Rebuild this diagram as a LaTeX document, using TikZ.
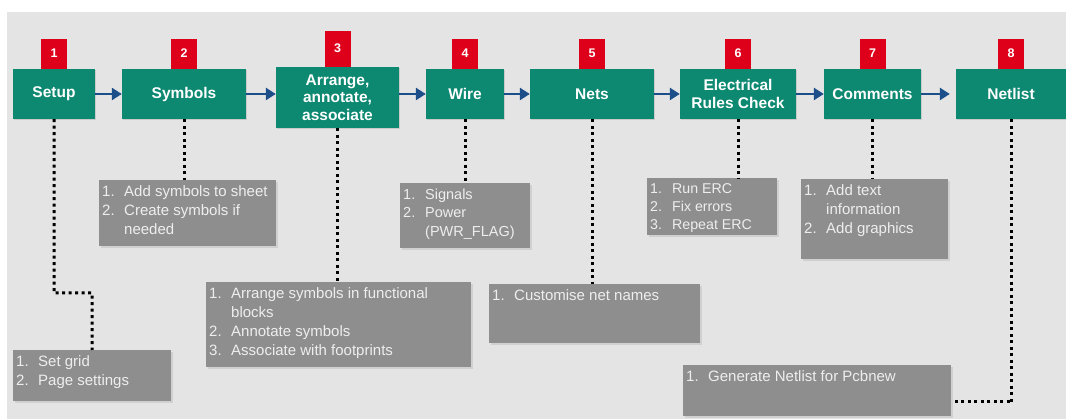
\documentclass[tikz,border=0pt]{standalone}
\usepackage{fontspec}
\setmainfont{Liberation Sans}
\usetikzlibrary{arrows.meta,shadows}

\definecolor{stagegreen}{RGB}{13,136,113}
\definecolor{tagred}{RGB}{222,0,26}
\definecolor{flowblue}{RGB}{28,78,138}
\definecolor{backgray}{RGB}{228,228,228}
\definecolor{notegray}{RGB}{142,142,142}
\definecolor{notetext}{RGB}{238,238,238}

\newcommand{\num}[1]{\makebox[22pt][l]{#1}}
\newcommand{\notebox}[3]{\parbox[t][#2][t]{#1}{\strut#3}}

\begin{document}
\begin{tikzpicture}[x=1pt,y=-1pt,
		stage/.style={fill=stagegreen, text=white, font=\fontsize{15.5}{17.5}\selectfont\bfseries, align=center, inner sep=0pt,
			drop shadow={shadow xshift=1.2pt, shadow yshift=-1.2pt, opacity=0.25}},
		tag/.style={fill=tagred, text=white, font=\fontsize{12.5}{14}\selectfont\bfseries, minimum width=26pt, inner sep=0pt, anchor=south},
		notes/.style={fill=notegray, text=notetext, font=\fontsize{15}{19}\selectfont, inner xsep=3pt, inner ysep=3pt, anchor=north west,
			drop shadow={shadow xshift=1.5pt, shadow yshift=-1.5pt, opacity=0.2}},
		flow/.style={draw=flowblue, line width=2.6pt, -{Triangle[length=10pt,width=12pt]}},
		dots/.style={draw=black, line width=3pt, dash pattern=on 3pt off 3.5pt}]
	\useasboundingbox (0,0) rectangle (1066,419);
	\fill[white] (0,0) rectangle (1066,419);
	\fill[backgray] (7,12) rectangle (1066,419);

	\node[stage, minimum width=82pt, minimum height=50pt] (setup) at (54,94) {Setup};
	\node[stage, minimum width=124pt, minimum height=50pt] (symbols) at (184,94) {Symbols};
	\node[stage, minimum width=123pt, minimum height=61pt] (arrange) at (337.5,97.5) {Arrange,\\annotate,\\associate};
	\node[stage, minimum width=78pt, minimum height=50pt] (wire) at (465,94) {Wire};
	\node[stage, minimum width=124pt, minimum height=50pt] (nets) at (592,94) {Nets};
	\node[stage, minimum width=116pt, minimum height=50pt] (erc) at (738,94) {Electrical\\Rules Check};
	\node[stage, minimum width=97pt, minimum height=50pt] (comments) at (872.5,94) {Comments};
	\node[stage, minimum width=110pt, minimum height=50pt] (netlist) at (1011,94) {Netlist};

	\node[tag, minimum height=30pt] (tagone) at (setup.north) {1};
	\node[tag, minimum height=30pt] (tagtwo) at (symbols.north) {2};
	\node[tag, minimum height=36pt] (tagthree) at (arrange.north) {3};
	\node[tag, minimum height=30pt] (tagfour) at (wire.north) {4};
	\node[tag, minimum height=30pt] (tagfive) at (nets.north) {5};
	\node[tag, minimum height=30pt] (tagsix) at (erc.north) {6};
	\node[tag, minimum height=30pt] (tagseven) at (comments.north) {7};
	\node[tag, minimum height=30pt] (tageight) at (netlist.north) {8};

	\draw[flow] (setup.east) -- (symbols.west);
	\draw[flow] (symbols.east) -- (symbols.east -| arrange.west);
	\draw[flow] (wire.west -| arrange.east) -- (wire.west);
	\draw[flow] (wire.east) -- (nets.west);
	\draw[flow] (nets.east) -- (erc.west);
	\draw[flow] (erc.east) -- (comments.west);
	\draw[flow, shorten >=6pt] (comments.east) -- (netlist.west);

	\node[notes] (setupnotes) at (13,350) {\notebox{152pt}{45pt}{\num{1.}Set grid\\\num{2.}Page settings}};
	\node[notes] (symbolsnotes) at (99,180) {\notebox{171pt}{60pt}{\num{1.}Add symbols to sheet\\\num{2.}Create symbols if\\\num{}needed}};
	\node[notes] (arrangenotes) at (206,282) {\notebox{259pt}{79pt}{\num{1.}Arrange symbols in functional\\\num{}blocks\\\num{2.}Annotate symbols\\\num{3.}Associate with footprints}};
	\node[notes, font=\fontsize{14.5}{18.5}\selectfont] (wirenotes) at (400,183) {\notebox{124pt}{59pt}{\num{1.}Signals\\\num{2.}Power\\\num{}(PWR\_FLAG)}};
	\node[notes] (netsnotes) at (489,284) {\notebox{205pt}{53pt}{\num{1.}Customise net names}};
	\node[notes, font=\fontsize{14.2}{18}\selectfont] (ercnotes) at (647,178) {\notebox{124pt}{51pt}{\num{1.}Run ERC\\\num{2.}Fix errors\\\num{3.}Repeat ERC}};
	\node[notes] (commentsnotes) at (801,179) {\notebox{141pt}{74pt}{\num{1.}Add text\\\num{}information\\\num{2.}Add graphics}};
	\node[notes] (netlistnotes) at (683,365) {\notebox{262pt}{45pt}{\num{1.}Generate Netlist for Pcbnew}};

	\coordinate (setupbend) at (92,293);
	\coordinate (netlistbend) at (1012,402);
	\draw[dots] (setup.south) |- (setupbend) -- (setupnotes.north);
	\draw[dots] (symbols.south) -- (symbols.south |- symbolsnotes.north);
	\draw[dots] (arrange.south) -- (arrange.south |- arrangenotes.north);
	\draw[dots] (wire.south) -- (wire.south |- wirenotes.north);
	\draw[dots] (nets.south) -- (nets.south |- netsnotes.north);
	\draw[dots] (erc.south) -- (erc.south |- ercnotes.north);
	\draw[dots] (comments.south) -- (comments.south |- commentsnotes.north);
	\draw[dots] (netlist.south) |- (netlistbend) -- (netlistbend -| netlistnotes.east);
\end{tikzpicture}
\end{document}
